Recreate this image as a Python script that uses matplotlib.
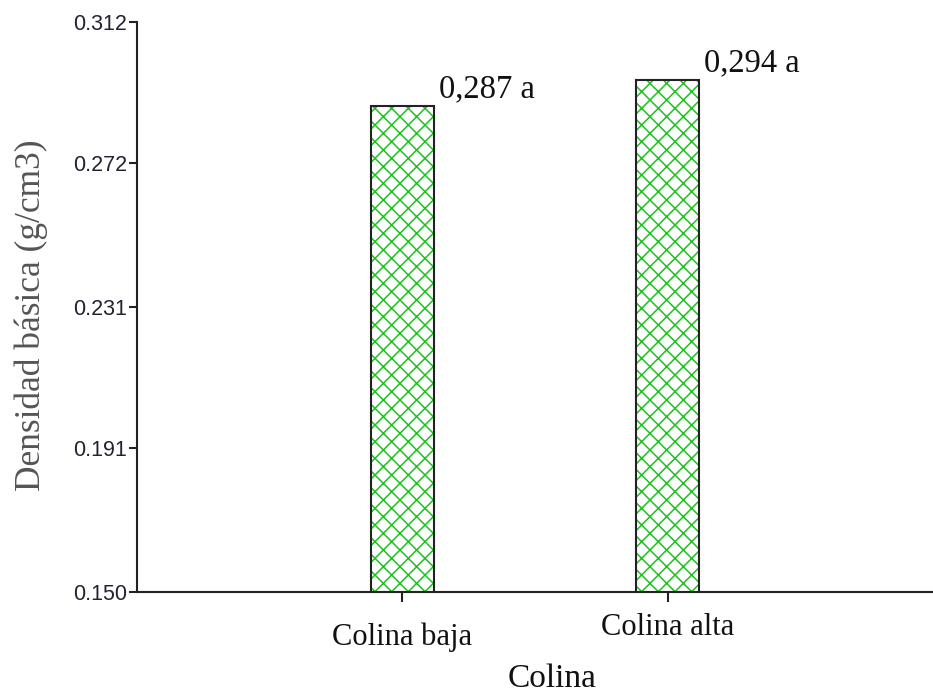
import matplotlib
matplotlib.use("Agg")
import matplotlib.pyplot as plt
import matplotlib.transforms as mtransforms

categories = ["Colina baja", "Colina alta"]
heights = [0.288, 0.2955]
labels = ["0,287 a", "0,294 a"]
yticks = [0.150, 0.191, 0.231, 0.272, 0.312]
# vertical offset (points) for each category label, the reference has them uneven
label_drop = [22, 15]

serif = ["Liberation Serif", "DejaVu Serif"]
sans = ["Liberation Sans", "DejaVu Sans"]

fig = plt.figure(figsize=(9.33, 6.95), dpi=100)
ax = fig.add_axes([0.1468, 0.1482, 0.8532, 0.8201])

xs = [1, 2]
w = 0.237
plt.rcParams['hatch.linewidth'] = 1.1
ax.bar(xs, heights, width=w, bottom=0, color="white", edgecolor="#1ec21e",
       hatch="xx", linewidth=0, zorder=2)
ax.bar(xs, heights, width=w, bottom=0, fill=False, edgecolor="#222222",
       linewidth=1.5, zorder=3)

for x, h, t in zip(xs, heights, labels):
    ax.annotate(t, xy=(x + w / 2, h), xytext=(3.5, 6.5), textcoords="offset points",
                ha="left", va="baseline", family=serif, fontsize=23.5, color="#111111")

ax.set_xlim(0, 3)
ax.set_ylim(0.150, 0.312)
ax.set_yticks(yticks)
ax.set_yticklabels(["%.3f" % v for v in yticks], family=sans, fontsize=15.5,
                   color="#222233")
ax.set_xticks(xs)
ax.set_xticklabels([])

trans = mtransforms.blended_transform_factory(ax.transData, ax.transAxes)
for x, c, d in zip(xs, categories, label_drop):
    ax.annotate(c, xy=(x, 0), xycoords=trans, xytext=(0, -d), textcoords="offset points",
                ha="center", va="top", family=serif, fontsize=22, color="#111111")

ax.spines["top"].set_visible(False)
ax.spines["right"].set_visible(False)
for s in ["left", "bottom"]:
    ax.spines[s].set_linewidth(1.5)
    ax.spines[s].set_color("#222222")
ax.tick_params(axis="y", direction="out", length=6, width=1.5, pad=1, colors="#222222")
ax.tick_params(axis="x", direction="out", length=7, width=1.5, colors="#222222")
for t in ax.get_yticklabels():
    t.set_color("#222233")

ax.set_ylabel("Densidad básica (g/cm3)", family=serif, fontsize=25.5, color="#555555")
ax.yaxis.set_label_coords(-0.112, 0.486)
ax.set_xlabel("Colina", family=serif, fontsize=24, color="#111111")
ax.xaxis.set_label_coords(0.521, -0.126)

fig.savefig("out.png", dpi=100)
